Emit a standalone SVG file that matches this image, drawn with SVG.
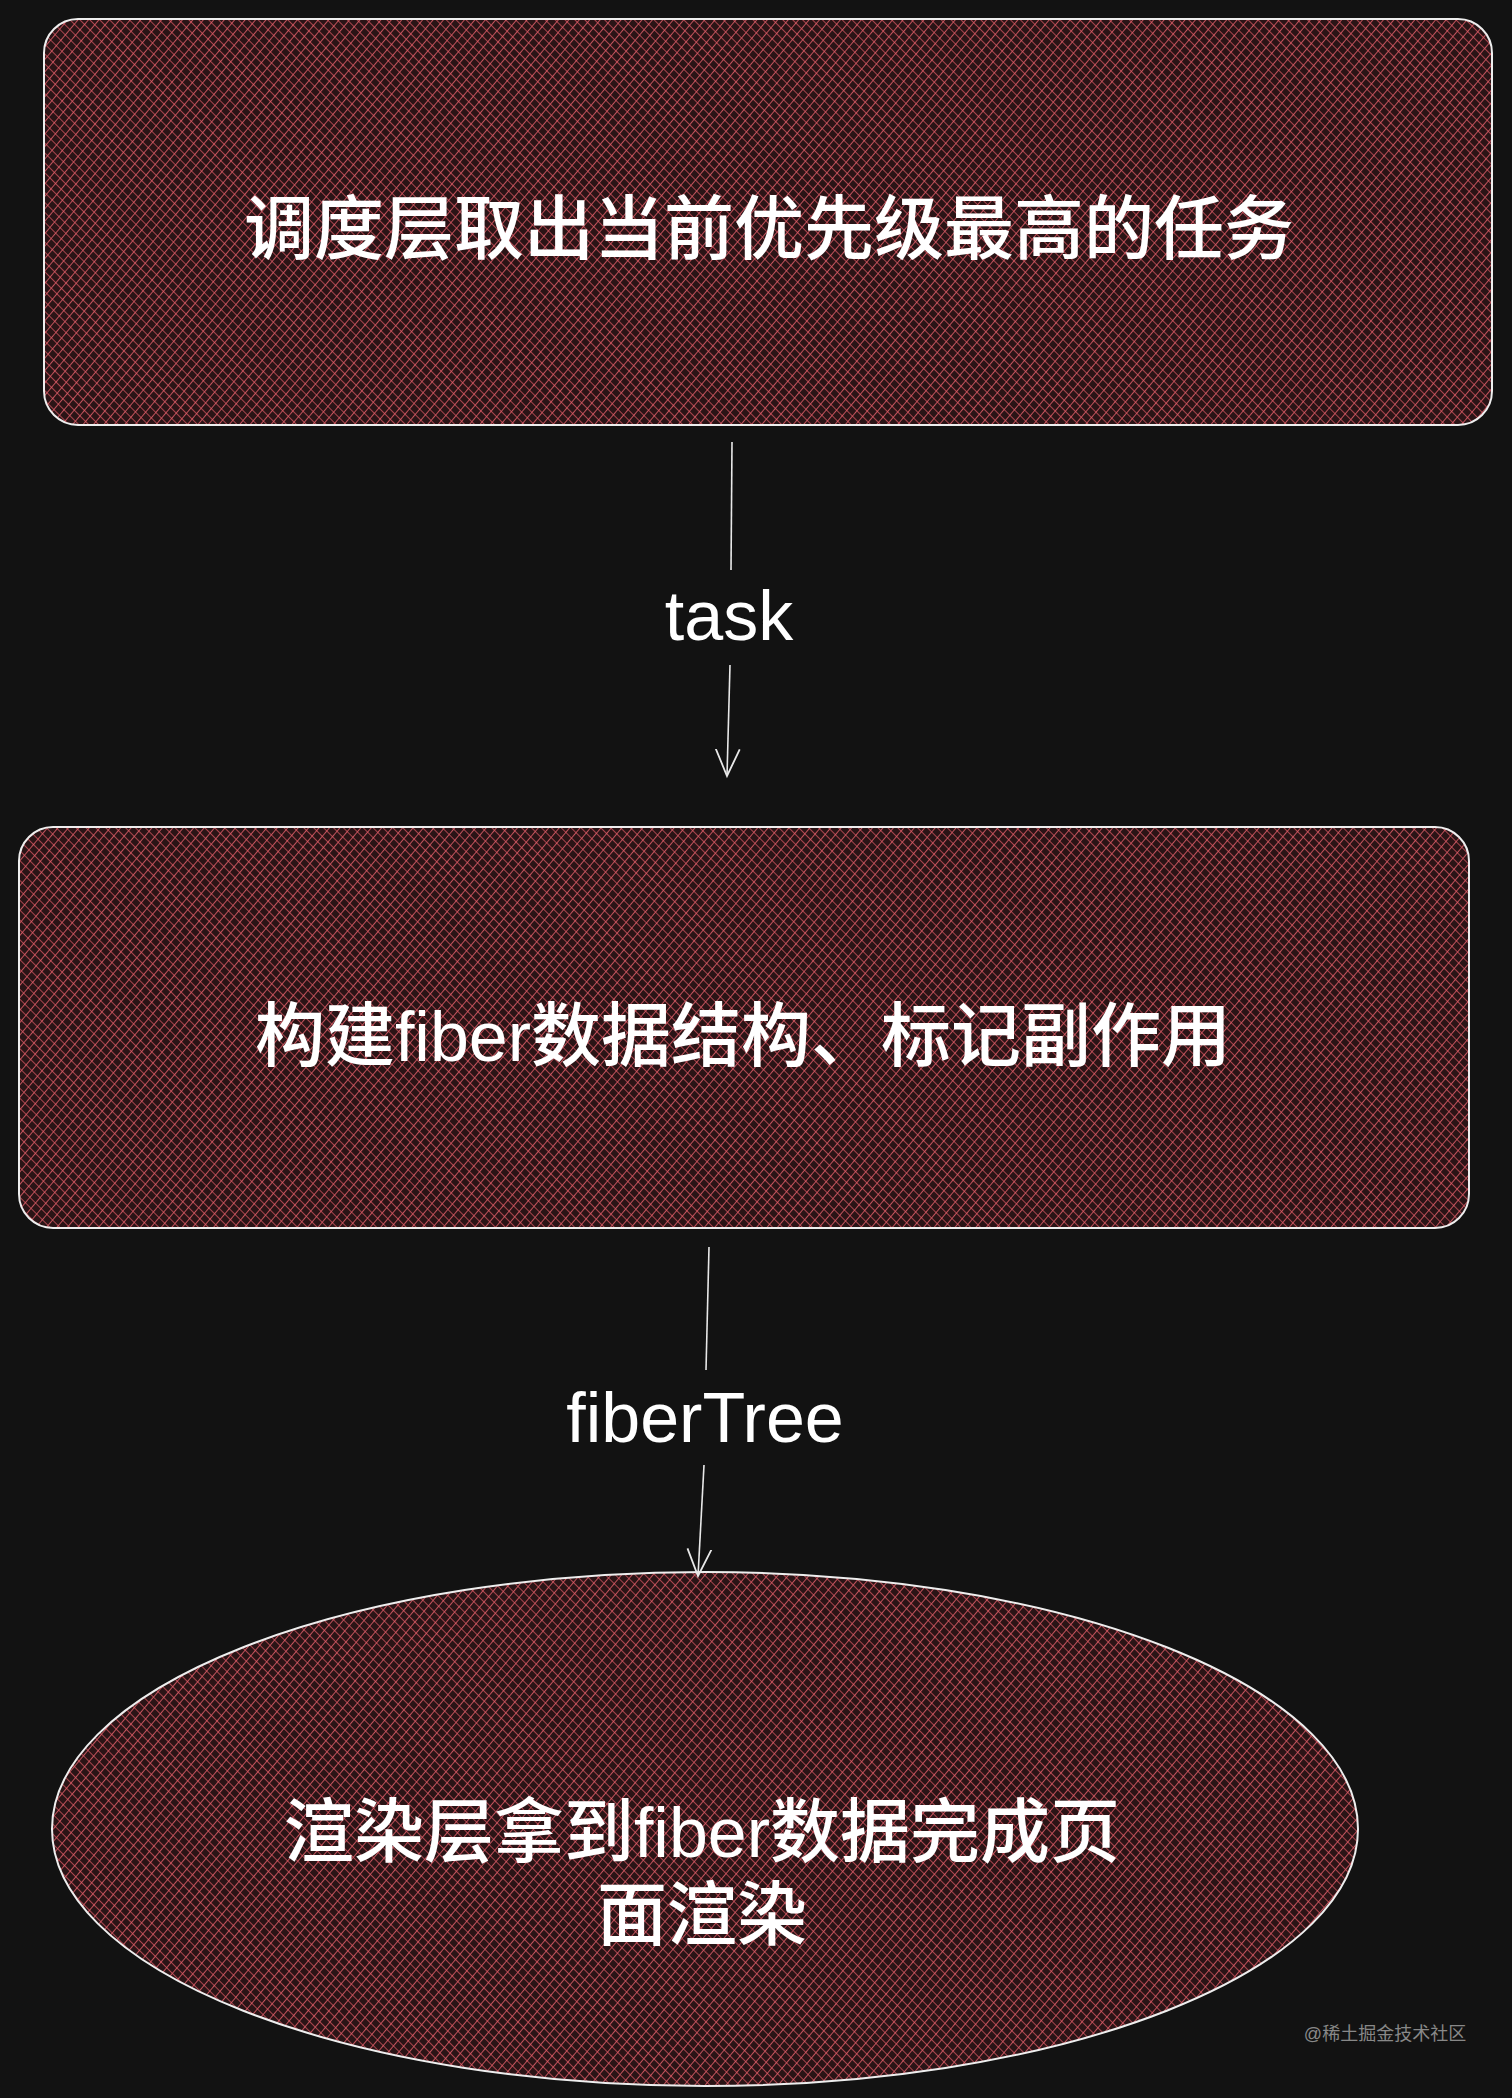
<svg xmlns="http://www.w3.org/2000/svg" width="1512" height="2098" viewBox="0 0 1512 2098">
<defs>
<pattern id="h1" width="8" height="8" patternUnits="userSpaceOnUse" patternTransform="rotate(40)">
<rect width="8" height="8" fill="#2a1416"/>
<line x1="0" y1="0" x2="0" y2="8" stroke="#e8636e" stroke-width="1.6"/>
</pattern>
<pattern id="h2" width="7" height="7" patternUnits="userSpaceOnUse" patternTransform="rotate(-45)">
<line x1="0" y1="0" x2="0" y2="7" stroke="#e05a66" stroke-width="1.4"/>
</pattern>
<marker id="arr" viewBox="0 0 20 20" refX="18" refY="10" markerWidth="30" markerHeight="30" markerUnits="userSpaceOnUse" orient="auto">
<path d="M0 2 L18 10 L0 18" fill="none" stroke="#e8e8e8" stroke-width="1.2"/>
</marker>
<style>
.n{stroke:#eeeeee;stroke-width:2}
.t{font-family:"Liberation Sans","Noto Sans CJK SC",sans-serif;fill:#ffffff;text-anchor:middle;dominant-baseline:central;font-size:70px;font-weight:500}
.c{stroke:#e8e8e8;stroke-width:1.6;fill:none}
</style>
</defs>
<rect width="1512" height="2098" fill="#121212"/>
<g id="node1">
<rect x="44" y="19" width="1448" height="406" rx="34" fill="url(#h1)"/>
<rect x="44" y="19" width="1448" height="406" rx="34" fill="url(#h2)" class="n"/>
<text class="t" x="769" y="230">调度层取出当前优先级最高的任务</text>
</g>
<g id="node2">
<rect x="19" y="827" width="1450" height="401" rx="34" fill="url(#h1)"/>
<rect x="19" y="827" width="1450" height="401" rx="34" fill="url(#h2)" class="n"/>
<text class="t" x="743" y="1037">构建fiber数据结构、标记副作用</text>
</g>
<g id="node3">
<ellipse cx="705" cy="1829" rx="653" ry="257" fill="url(#h1)"/>
<ellipse cx="705" cy="1829" rx="653" ry="257" fill="url(#h2)" class="n"/>
<text class="t" x="702" y="1833">渲染层拿到fiber数据完成页</text>
<text class="t" x="702" y="1916">面渲染</text>
</g>
<g id="connectors">
<path class="c" d="M732 442 L731 570"/>
<path class="c" d="M730 665 L727 776" marker-end="url(#arr)"/>
<text class="t" x="729" y="616">task</text>
<path class="c" d="M709 1247 L706 1370"/>
<path class="c" d="M704 1465 L698 1576" marker-end="url(#arr)"/>
<text class="t" x="705" y="1418">fiberTree</text>
</g>
<text x="1385" y="2040" font-family="'Liberation Sans','Noto Sans CJK SC',sans-serif" font-size="18" fill="#888888" text-anchor="middle">@稀土掘金技术社区</text>
</svg>
